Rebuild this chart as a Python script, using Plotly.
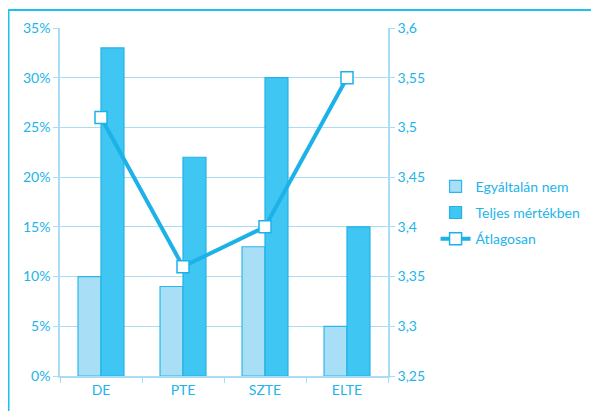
import plotly.graph_objects as go

categories = ["DE", "PTE", "SZTE", "ELTE"]
egyaltalan_nem = [10, 9, 13, 5]
teljes_mertekben = [33, 22, 30, 15]
atlagosan = [3.51, 3.36, 3.40, 3.55]
left_ticks = [0, 5, 10, 15, 20, 25, 30, 35]
left_ticktext = ["0%", "5%", "10%", "15%", "20%", "25%", "30%", "35%"]
right_ticks = [3.25, 3.3, 3.35, 3.4, 3.45, 3.5, 3.55, 3.6]
right_ticktext = ["3,25", "3,3", "3,35", "3,4", "3,45", "3,5", "3,55", "3,6"]

TXT = "#22B4EA"
GRID = "#A9DDF5"
LINE = "#1CB2E8"
FONT = "Lato, Open Sans, sans-serif"

fig = go.Figure()
fig.add_trace(go.Bar(
    x=categories, y=egyaltalan_nem, name="Egyáltalán nem", legendgroup="a",
    marker=dict(color="#A9DEF7", line=dict(color="#2BB7EA", width=1.2)),
))
fig.add_trace(go.Bar(
    x=categories, y=teljes_mertekben, name="Teljes mértékben", legendgroup="b",
    marker=dict(color="#40C6F2", line=dict(color="#22B2E6", width=1.2)),
))
fig.add_trace(go.Scatter(
    x=categories, y=atlagosan, name="Átlagosan", yaxis="y2", legendgroup="c",
    mode="lines+markers",
    line=dict(color=LINE, width=4),
    marker=dict(symbol="square", size=12, color="white", line=dict(color=LINE, width=1.5)),
))

fig.update_layout(
    width=591, height=403,
    margin=dict(l=52, r=211, t=20, b=35),
    paper_bgcolor="white", plot_bgcolor="white",
    font=dict(family=FONT, size=14, color=TXT),
    barmode="group", bargap=0.44, bargroupgap=0,
    showlegend=True,
    legend=dict(x=1.145, y=0.59, xanchor="left", yanchor="top",
                font=dict(size=14, color=TXT), tracegroupgap=5,
                itemwidth=30, bgcolor="rgba(0,0,0,0)"),
    xaxis=dict(
        showgrid=False, showline=True, linecolor=GRID, linewidth=1.5,
        ticks="outside", tickson="boundaries", ticklen=5, tickcolor=GRID,
        tickfont=dict(size=14, color=TXT),
    ),
    yaxis=dict(
        range=[0, 35], tickvals=left_ticks, ticktext=left_ticktext,
        showgrid=True, gridcolor=GRID, gridwidth=1.2,
        showline=True, linecolor=GRID, linewidth=1.5,
        ticks="outside", ticklen=5, tickcolor=GRID,
        zeroline=False, tickfont=dict(size=14, color=TXT),
    ),
    yaxis2=dict(
        range=[3.25, 3.6], tickvals=right_ticks, ticktext=right_ticktext,
        overlaying="y", side="right", showgrid=False,
        showline=True, linecolor=GRID, linewidth=1.5,
        ticks="outside", ticklen=5, tickcolor=GRID,
        zeroline=False, tickfont=dict(size=14, color=TXT),
    ),
    shapes=[dict(type="rect", xref="paper", yref="paper",
                 x0=-0.157, x1=2.0, y0=-0.3, y1=1.052,
                 line=dict(color="#1EC0F2", width=2), layer="below")],
)

fig.write_html("out.html")
